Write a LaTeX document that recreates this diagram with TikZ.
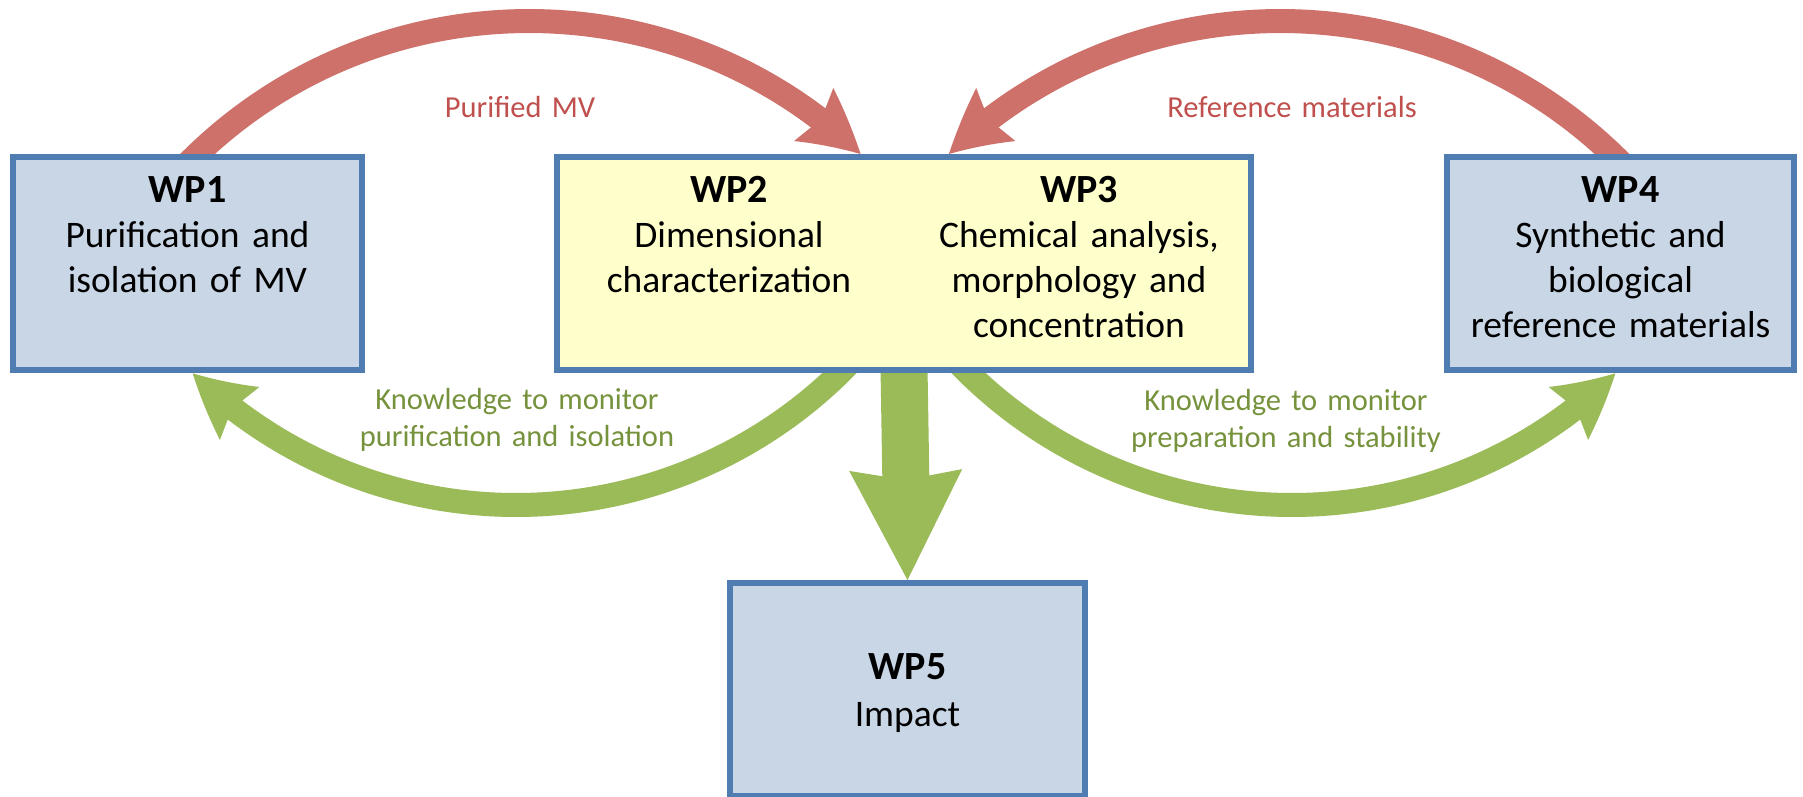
\documentclass[tikz,border=0pt]{standalone}
\usepackage{fontspec}
\setmainfont{Carlito}
\usetikzlibrary{arrows.meta,bending,backgrounds,calc}
\definecolor{boxblue}{RGB}{201,214,230}
\definecolor{boxline}{RGB}{79,125,177}
\definecolor{boxyellow}{RGB}{255,255,204}
\definecolor{arrred}{RGB}{206,113,106}
\definecolor{arrgreen}{RGB}{155,187,89}
\definecolor{txtred}{RGB}{192,80,77}
\definecolor{txtgreen}{RGB}{118,146,60}
\newcommand\wphead[1]{{\fontsize{40}{45}\selectfont\bfseries #1}}
\begin{document}
\begin{tikzpicture}[x=1pt,y=1pt,
  wpbox/.style={draw=boxline,line width=6pt,fill=boxblue,inner sep=0pt,minimum height=213pt},
  yelbox/.style={wpbox,fill=boxyellow},
  boxtext/.style={anchor=base,align=center,text width=340pt,inner sep=0pt,font=\fontsize{37.5}{45}\selectfont},
  lbl/.style={anchor=base,align=center,text width=420pt,inner sep=0pt,font=\fontsize{30.5}{37}\selectfont},
  redarr/.style={draw=arrred,color=arrred,line width=24pt,-{Stealth[length=62pt,width=66pt,inset=9pt,line width=0pt,bend]}},
  greenarr/.style={draw=arrgreen,color=arrgreen,line width=24pt,-{Stealth[length=62pt,width=66pt,inset=9pt,line width=0pt,bend]}},
  downarr/.style={draw=arrgreen,color=arrgreen,line width=47pt,-{Stealth[length=110pt,width=113pt,inset=10pt,line width=0pt]}}
]
\useasboundingbox (0,0) rectangle (1803,-796);
\node[wpbox,minimum width=349pt] (wp1) at (187.5,-263.5) {};
\node[yelbox,minimum width=694pt] (wp23) at (904,-263.5) {};
\node[wpbox,minimum width=347pt] (wp4) at (1620.5,-263.5) {};
\node[wpbox,minimum width=355pt] (wp5) at (907.5,-689.5) {};

\node[boxtext] (t1) at ($(wp1.north)+(0,-48)$) {\wphead{WP1}\\Purification and\\isolation of MV};
\node[boxtext] (t2) at ($(wp23.north)+(-175,-48)$) {\wphead{WP2}\\Dimensional\\characterization};
\node[boxtext] (t3) at ($(wp23.north)+(175,-48)$) {\wphead{WP3}\\Chemical analysis,\\morphology and\\concentration};
\node[boxtext] (t4) at ($(wp4.north)+(0,-48)$) {\wphead{WP4}\\Synthetic and\\biological\\reference materials};
\node[boxtext] (t5) at ($(wp5.north)+(0,-99)$) {\wphead{WP5}\\[2pt]Impact};

\node[lbl,text=txtred] (l1) at (520,-117) {Purified MV};
\node[lbl,text=txtred] (l2) at (1292,-117) {Reference materials};
\node[lbl,text=txtgreen] (l3) at (517,-409) {Knowledge to monitor\\purification and isolation};
\node[lbl,text=txtgreen] (l4) at (1286,-410) {Knowledge to monitor\\preparation and stability};

\begin{scope}[on background layer]
\fill[white] (0,0) rectangle (1803,-796);
\coordinate (cR1) at (529,-501);
\coordinate (cR2) at (1280.5,-501);
\coordinate (cG1) at (516,-42);
\coordinate (cG2) at (1292,-42);
\draw[redarr] (cR1) ++(136:480pt) arc[start angle=136,end angle=46.3,radius=480pt];
\draw[redarr] (cR2) ++(44:480pt) arc[start angle=44,end angle=133.7,radius=480pt];
\draw[greenarr] (cG1) ++(-43.5:463pt) arc[start angle=-43.5,end angle=-134.3,radius=463pt];
\draw[greenarr] (cG2) ++(-136.5:463pt) arc[start angle=-136.5,end angle=-45.7,radius=463pt];
\draw[downarr] ($(wp23.south)+(0,5)$) -- (wp5.north);
\end{scope}
\end{tikzpicture}
\end{document}
